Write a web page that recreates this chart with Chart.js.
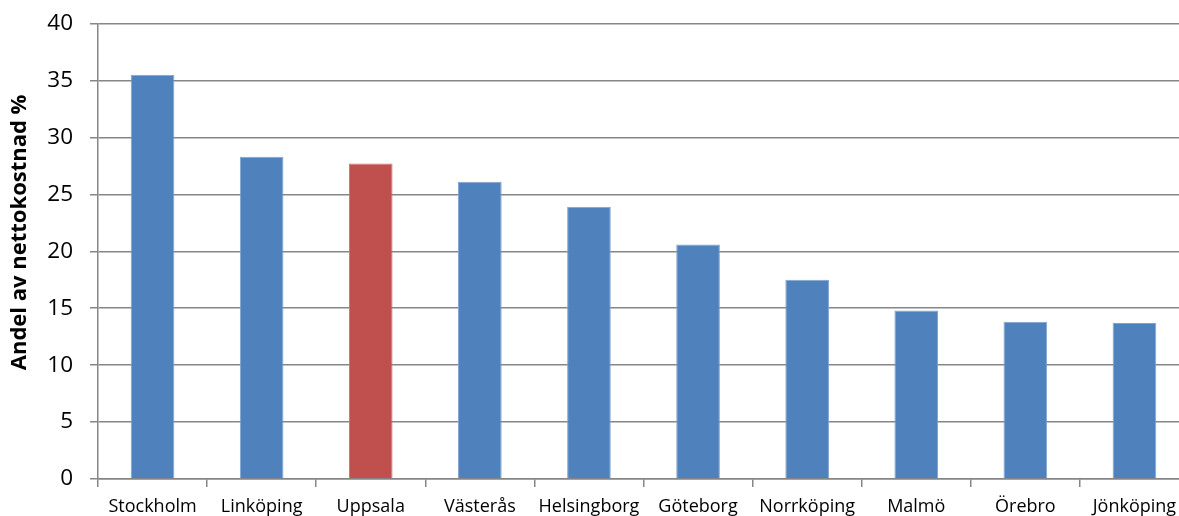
<!DOCTYPE html>
<html><head><meta charset="utf-8">
<script src="https://cdn.jsdelivr.net/npm/chart.js@4"></script>
<style>html,body{margin:0;padding:0;overflow:hidden;background:#fff}#wrap{width:1189px;height:516px;position:relative}</style>
</head><body><div id="wrap"><canvas id="c"></canvas></div>
<script>
const categories = ["Stockholm","Linköping","Uppsala","Västerås","Helsingborg","Göteborg","Norrköping","Malmö","Örebro","Jönköping"];
const values = [35.5, 28.3, 27.7, 26.1, 23.9, 20.6, 17.5, 14.8, 13.8, 13.7];
const highlight = "Uppsala";
const yTitle = "\u2007\u2007\u2007Andel av nettokostnad %";
const blue = "#4F81BD", red = "#C0504D", gridCol = "#868686";
new Chart(document.getElementById('c'), {
  type: 'bar',
  data: { labels: categories, datasets: [{
    data: values,
    backgroundColor: categories.map(c => c === highlight ? red : blue),
    borderColor: categories.map(c => c === highlight ? "#CC7775" : "#7FA3D0"),
    borderWidth: 1,
    barPercentage: 0.4, categoryPercentage: 1
  }]},
  options: {
    responsive: true, maintainAspectRatio: false, animation: false,
    layout: { padding: { top: 23.5, left: 0, right: 0, bottom: 0 } },
    plugins: { legend: { display: false }, tooltip: { enabled: false } },
    scales: {
      x: {
        offset: true,
        afterFit: s => { s.height = 37; },
        grid: { drawOnChartArea: false, drawTicks: true, tickLength: 8, color: gridCol, lineWidth: 1.5, offset: true },
        border: { color: gridCol, width: 1.5 },
        ticks: { color: "#000", font: { family: "Open Sans", size: 18 }, padding: 9, maxRotation: 0, autoSkip: false }
      },
      y: {
        min: 0, max: 40,
        afterFit: s => { s.width = 98; s.paddingTop = 0; s.paddingBottom = 0; },
        ticks: { stepSize: 5, color: "#000", font: { family: "Open Sans", size: 22.5 }, padding: 17 },
        grid: { color: gridCol, lineWidth: 1.5, tickLength: 8 },
        border: { color: gridCol, width: 1.5 },
        title: { display: true, text: yTitle, color: "#000", font: { family: "Open Sans", size: 22, weight: "bold" }, padding: { top: 7, bottom: 0 } }
      }
    }
  }
});
</script></body></html>
